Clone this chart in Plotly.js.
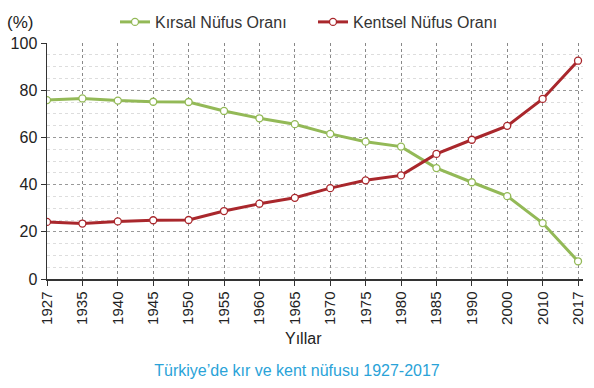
<!DOCTYPE html>
<html>
<head>
<meta charset="utf-8">
<script src="https://cdn.plot.ly/plotly-3.0.1.min.js"></script>
<style>html,body{margin:0;padding:0;background:#fff;}#chart{width:594px;height:388px;}</style>
</head>
<body>
<div id="chart"></div>
<script>
var years = ["1927","1935","1940","1945","1950","1955","1960","1965","1970","1975","1980","1985","1990","2000","2010","2017"];
var kirsal = [75.8, 76.5, 75.6, 75.1, 75.0, 71.2, 68.1, 65.6, 61.5, 58.2, 56.1, 47.0, 41.0, 35.1, 23.7, 7.5];
var kentsel = [24.2, 23.5, 24.4, 24.9, 25.0, 28.8, 31.9, 34.4, 38.5, 41.8, 43.9, 53.0, 59.0, 64.9, 76.3, 92.5];
var seriesNames = ["Kırsal Nüfus Oranı", "Kentsel Nüfus Oranı"];
var colors = ["#93b957", "#a9272c"];

var font = "Liberation Sans, Arial, sans-serif";
var traces = [
  {x: years, y: kirsal, name: seriesNames[0], type: "scatter", mode: "lines+markers",
   line: {color: colors[0], width: 3},
   marker: {symbol: "circle", size: 7, color: "#ffffff", line: {color: colors[0], width: 1.3}}},
  {x: years, y: kentsel, name: seriesNames[1], type: "scatter", mode: "lines+markers",
   line: {color: colors[1], width: 3},
   marker: {symbol: "circle", size: 7, color: "#ffffff", line: {color: colors[1], width: 1.3}}}
];

var layout = {
  width: 594, height: 388,
  margin: {l: 47, r: 11, t: 43, b: 109},
  paper_bgcolor: "#ffffff", plot_bgcolor: "#ffffff",
  font: {family: font, color: "#222", size: 15},
  showlegend: true,
  legend: {orientation: "h", xref: "container", yref: "container", x: 115/594, y: 1 - 22/388,
    xanchor: "left", yanchor: "middle", font: {size: 16, color: "#333"},
    entrywidth: 153, entrywidthmode: "pixels", itemwidth: 30, bgcolor: "rgba(0,0,0,0)"},
  title: {text: "Türkiye’de kır ve kent nüfusu 1927-2017", font: {size: 16, color: "#2aa3d8", family: font},
    xref: "container", yref: "container", x: 0.5, xanchor: "center", y: 1 - 370/388, yanchor: "middle"},
  xaxis: {type: "category", range: [0, 15.14], tickangle: -90,
    showgrid: true, gridcolor: "#888", griddash: "dot", gridwidth: 1,
    showline: true, linecolor: "#333", linewidth: 1.5,
    ticks: "outside", ticklen: 5, tickcolor: "#333",
    tickfont: {size: 15, color: "#222"}, fixedrange: true},
  yaxis: {range: [0, 100], dtick: 20, tick0: 0,
    showgrid: true, gridcolor: "#999", griddash: "dot", gridwidth: 1,
    minor: {dtick: 5, showgrid: true, gridcolor: "#ddd", griddash: "dot", gridwidth: 1},
    showline: true, linecolor: "#333", linewidth: 1.5,
    ticks: "outside", ticklen: 5, tickcolor: "#333",
    tickfont: {size: 16, color: "#222"}, zeroline: false, fixedrange: true},
  annotations: [
    {text: "(%)", xref: "paper", yref: "paper", x: -0.078, y: 1 + 21/236, xanchor: "left", yanchor: "middle",
     showarrow: false, font: {size: 17, color: "#222"}},
    {text: "Yıllar", xref: "paper", yref: "paper", x: (303 - 47)/536, y: -(338 - 279)/236, xanchor: "center", yanchor: "middle",
     showarrow: false, font: {size: 16, color: "#222"}}
  ]
};

Plotly.newPlot("chart", traces, layout, {displayModeBar: false, staticPlot: true});
</script>
</body>
</html>
